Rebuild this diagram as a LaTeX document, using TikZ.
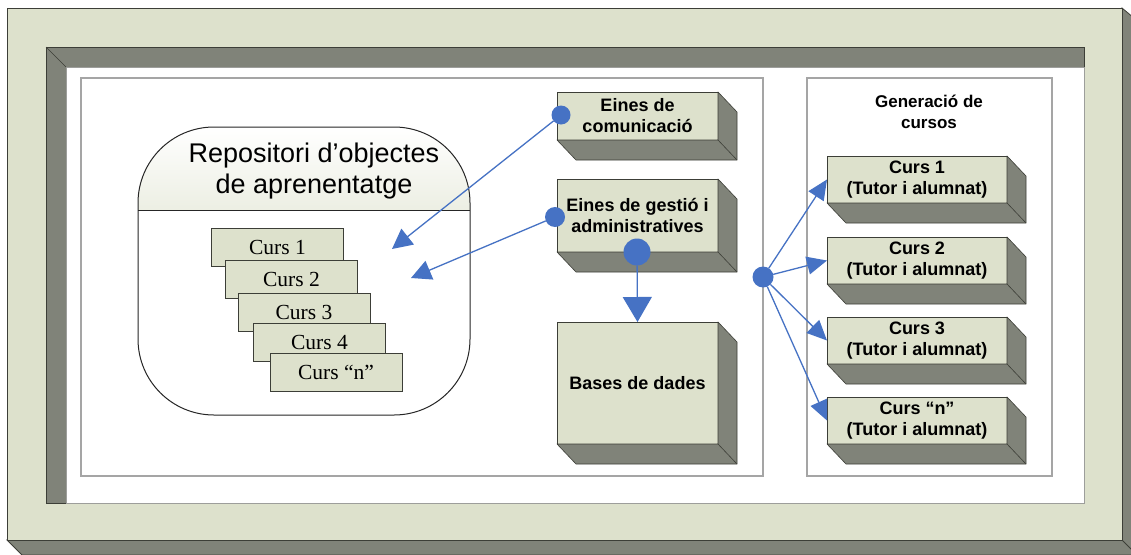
\documentclass[tikz,border=0pt]{standalone}
\usepackage{fontspec}
\setmainfont{Liberation Sans}
\newfontfamily\serifcurs{Liberation Serif}
\usetikzlibrary{arrows.meta,calc}

\definecolor{frontclr}{RGB}{221,225,204}
\definecolor{sideclr}{RGB}{128,131,121}
\definecolor{arrblue}{RGB}{70,114,196}
\definecolor{panelgray}{RGB}{165,165,165}
\definecolor{edgeclr}{RGB}{60,62,55}

\tikzset{
  frontbox/.style={draw=edgeclr, line width=0.6pt, fill=frontclr, inner sep=0pt, outer sep=0pt,
    align=center, font=\fontsize{18}{21}\selectfont\bfseries},
  sidebox/.style={fill=sideclr, draw=edgeclr, line width=0.6pt, line join=round},
  stackbox/.style={draw=edgeclr, line width=0.6pt, fill=frontclr, minimum width=132pt,
    minimum height=38pt, inner sep=0pt, font=\serifcurs\fontsize{21.5}{24}\selectfont},
  panel/.style={draw=panelgray, line width=1.2pt, fill=white},
  arr/.style={draw=arrblue, line width=1.3pt, -{Triangle[length=20pt,width=20pt]}},
  arrsmall/.style={draw=arrblue, line width=1.3pt, -{Triangle[length=20pt,width=18pt]}},
  bluedot/.style={circle, fill=arrblue, inner sep=0pt, outer sep=0pt, minimum size=#1},
  repoline/.style={draw=black!85, line width=1pt},
}

\newcommand{\tdbox}[6]{%
  \node[frontbox, minimum width=#4pt, minimum height=#5pt] (#1) at (#2,#3) {#6};
  \filldraw[sidebox] (#1.south west) -- ($(#1.south west)+(19,20)$) -- ($(#1.south east)+(19,20)$)
     -- ($(#1.north east)+(19,20)$) -- (#1.north east) -- (#1.south east) -- cycle;
  \draw[sidebox] (#1.south east) -- ($(#1.south east)+(19,20)$);
}
\newcommand{\repooutline}{(214,127) -- (394,127) arc[start angle=-90,end angle=0,radius=76]
  -- (470,339) arc[start angle=0,end angle=90,radius=76]
  -- (214,415) arc[start angle=90,end angle=180,radius=76]
  -- (138,203) arc[start angle=180,end angle=270,radius=76] -- cycle}

\begin{document}
\begin{tikzpicture}[x=1pt,y=-1pt]
\useasboundingbox (0,0) rectangle (1131,554);
\clip (0,0) rectangle (1131,554);
\fill[white] (0,0) rectangle (1131,554);

% outer raised frame
\filldraw[fill=sideclr, draw=edgeclr, line width=0.8pt] (7,540) -- (22,555) -- (1140,555) -- (1140,23) -- (1122,8) -- (1122,540) -- cycle;
\draw[edgeclr, line width=0.8pt] (1122,540) -- (1137,555);
\filldraw[fill=frontclr, draw=edgeclr, line width=0.8pt] (7,8) rectangle (1122,540);

% recessed inner frame
\filldraw[fill=sideclr, draw=edgeclr, line width=0.6pt] (46,47) rectangle (1084,503);
\filldraw[fill=white, draw=edgeclr!50, line width=0.6pt] (66,67) rectangle (1084,503);
\draw[edgeclr, line width=0.6pt] (46,47) -- (66,67);

% panels
\draw[panel] (81,78) rectangle (763,476);
\draw[panel] (807,78) rectangle (1052,476);

% repository
\node[inner sep=0pt, outer sep=0pt, minimum width=332pt, minimum height=288pt] (repo) at (304,271) {};
\begin{scope}
  \clip \repooutline;
  \fill[white] (repo.north west) rectangle (repo.south east);
  \shade[top color=white, bottom color=frontclr!55] (repo.north west) rectangle ($(repo.north east)+(0,83)$);
\end{scope}
\draw[repoline] \repooutline;
\draw[repoline] ($(repo.north west)+(0,83)$) -- ($(repo.north east)+(0,83)$);
\node[align=center, inner sep=0pt, font=\fontsize{27}{31}\selectfont] (title) at (314,171)
  {Repositori d’objectes\\de aprenentatge};

\node[stackbox] (c1) at (277.5,247) {Curs 1};
\node[stackbox] (c2) at (291.5,279) {Curs 2};
\node[stackbox] (c3) at (304,312) {Curs 3};
\node[stackbox] (c4) at (319.5,342) {Curs 4};
\node[stackbox] (cn) at (336,372.5) {Curs “n”};

% tools
\tdbox{ec}{637.5}{116}{161}{48}{Eines de\\comunicació}
\tdbox{eg}{637.5}{215.5}{161}{73}{Eines de gestió i\\administratives}
\tdbox{bd}{637.5}{383}{161}{122}{Bases de dades}

% course generation
\node[align=center, inner sep=0pt, font=\fontsize{17}{21}\selectfont\bfseries] (gen) at (929,112)
  {Generació de\\cursos};
\tdbox{r1}{917}{179.5}{180}{47}{Curs 1\\(Tutor i alumnat)}
\tdbox{r2}{917}{260.5}{180}{47}{Curs 2\\(Tutor i alumnat)}
\tdbox{r3}{917}{340.5}{180}{47}{Curs 3\\(Tutor i alumnat)}
\tdbox{rn}{917}{420.5}{180}{47}{Curs “n”\\(Tutor i alumnat)}

% dots
\node[bluedot=19pt] (d1) at (561,115) {};
\node[bluedot=20pt] (d2) at (555,217) {};
\node[bluedot=27pt] (d3) at (637,252) {};
\node[bluedot=21pt] (hub) at (763,277) {};

\coordinate (t1) at (392,249);
\coordinate (t2) at (411,278);

% connectors
\draw[arr] (d1) -- (t1);
\draw[arr] (d2) -- (t2);
\draw[draw=arrblue, line width=1.3pt, -{Triangle[length=25pt,width=29pt]}] (d3) -- (bd.north);
\draw[arrsmall] (hub) -- (r1.west);
\draw[arrsmall] (hub) -- (r2.west);
\draw[arrsmall] (hub) -- (r3.west);
\draw[arrsmall] (hub) -- (rn.west);
\end{tikzpicture}
\end{document}
